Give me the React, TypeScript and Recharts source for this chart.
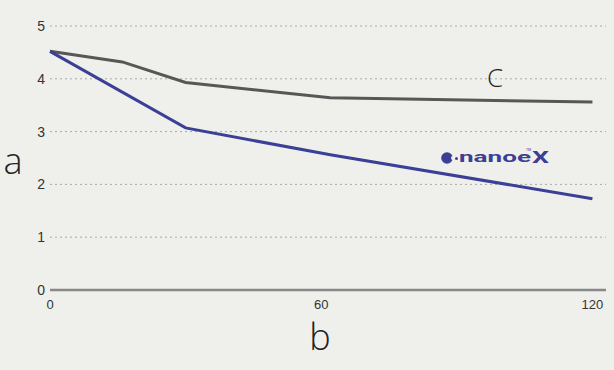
import React from "react";
import { CartesianGrid, Line, LineChart, XAxis, YAxis } from "recharts";

// minutes on the x axis
const grayX = [0, 16, 30, 62, 120];
const grayY = [4.52, 4.32, 3.93, 3.64, 3.56];
const blueX = [0, 30, 62, 120];
const blueY = [4.52, 3.07, 2.56, 1.73];
const xTicks = [0, 60, 120];
const yTicks = [0, 1, 2, 3, 4, 5];

const grayData = grayX.map((t, i) => ({ t, v: grayY[i] }));
const blueData = blueX.map((t, i) => ({ t, v: blueY[i] }));

const BG = "#eff0ec";
const GRAY = "#575757";
const BLUE = "#3b3f95";

export default function App() {
  return (
    <div style={{ position: "fixed", left: 0, top: 0, width: 614, height: 370, background: BG }}>
      <LineChart width={614} height={370} margin={{ top: 26, right: 8, left: 0, bottom: 50 }}>
        <CartesianGrid vertical={false} stroke="#a8a8a8" strokeDasharray="2 3" />
        <XAxis
          type="number"
          dataKey="t"
          domain={[0, 123]}
          ticks={xTicks}
          height={30}
          tickSize={0}
          tickMargin={10}
          tick={{ fill: "#333", fontSize: 13, fontFamily: "Liberation Sans, Arial, sans-serif" }}
          axisLine={{ stroke: "#888", strokeWidth: 2.5 }}
          allowDuplicatedCategory={false}
        />
        <YAxis
          type="number"
          domain={[0, 5]}
          ticks={yTicks}
          width={50}
          tickSize={0}
          tickMargin={5}
          axisLine={false}
          tick={{ fill: "#333", fontSize: 14, fontFamily: "Liberation Sans, Arial, sans-serif" }}
        />
        <Line
          data={grayData}
          dataKey="v"
          type="linear"
          stroke={GRAY}
          strokeWidth={3}
          dot={false}
          isAnimationActive={false}
        />
        <Line
          data={blueData}
          dataKey="v"
          type="linear"
          stroke={BLUE}
          strokeWidth={3}
          dot={false}
          isAnimationActive={false}
        />
      </LineChart>
      <svg
        width={614}
        height={370}
        style={{ position: "absolute", left: 0, top: 0, pointerEvents: "none" }}
      >
        <text x={13} y={160} textAnchor="middle" dominantBaseline="central" fontSize={36} fontWeight={300} fill="#222" fontFamily="Open Sans, sans-serif">
          a
        </text>
        <text x={320} y={336} textAnchor="middle" dominantBaseline="central" fontSize={36} fontWeight={300} fill="#222" fontFamily="Open Sans, sans-serif">
          b
        </text>
        <text x={495} y={77} textAnchor="middle" dominantBaseline="central" fontSize={26} fontWeight={300} fill="#222" fontFamily="Open Sans, sans-serif">
          C
        </text>
        <g fill={BLUE}>
          <circle cx={447} cy={158} r={5.8} />
          <circle cx={453} cy={158} r={2} fill={BG} />
          <circle cx={456.5} cy={158.5} r={1.5} />
          <text x={459} y={162} fontSize={15} fontWeight={700} fontFamily="Roboto, sans-serif" textLength={72} lengthAdjust="spacingAndGlyphs">
            nanoe
          </text>
          <text x={532} y={163} fontSize={17} fontWeight={700} fontFamily="Roboto, sans-serif" textLength={17} lengthAdjust="spacingAndGlyphs">
            X
          </text>
          <text x={526} y={151} fontSize={3.5} fontFamily="Roboto, sans-serif">
            TM
          </text>
        </g>
      </svg>
    </div>
  );
}
